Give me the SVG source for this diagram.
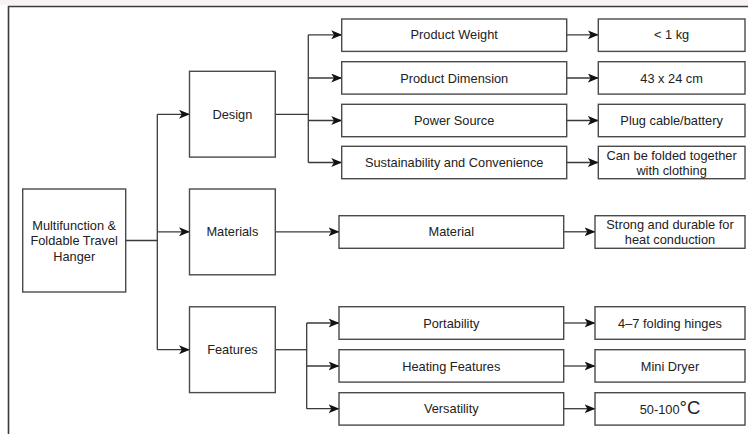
<svg xmlns="http://www.w3.org/2000/svg" width="748" height="434" viewBox="0 0 748 434">
  <style>
    .box { fill: #ffffff; stroke: #4a4a4a; stroke-width: 1.4; }
    .lbl { font-family: "Liberation Sans", Arial, sans-serif; font-size: 12.8px; fill: #222222; text-anchor: middle; }
    .wire { fill: none; stroke: #3a3a3a; stroke-width: 1.3; }
    .frame { fill: none; stroke: #3a3a3a; stroke-width: 1.6; }
  </style>
  <defs>
    <marker id="arrow" viewBox="0 0 11 9" refX="10.5" refY="4.5" markerWidth="11" markerHeight="9" markerUnits="userSpaceOnUse" orient="auto">
      <path d="M0,0 L11,4.5 L0,9 L2.8,4.5 Z" fill="#111111"/>
    </marker>
  </defs>

  <rect x="0" y="0" width="748" height="434" fill="#ffffff"/>
  <rect x="0" y="0" width="748" height="5" fill="#f7f3f4"/>
  <!-- outer frame (open to the right and bottom) -->
  <path class="frame" d="M8.5,434 V6.5 H748"/>

  <!-- connectors -->
  <g id="connectors">
    <!-- root to categories -->
    <path class="wire" d="M125.7,240.5 H157.3"/>
    <path class="wire" d="M157.3,114.3 V349.7"/>
    <path class="wire" marker-end="url(#arrow)" d="M157.3,114.3 H189.5"/>
    <path class="wire" marker-end="url(#arrow)" d="M157.3,231.8 H189.5"/>
    <path class="wire" marker-end="url(#arrow)" d="M157.3,349.7 H189.5"/>

    <!-- Design branch -->
    <path class="wire" d="M275.3,114.3 H308.3"/>
    <path class="wire" d="M308.3,34.8 V162.5"/>
    <path class="wire" marker-end="url(#arrow)" d="M308.3,34.8 H341.7"/>
    <path class="wire" marker-end="url(#arrow)" d="M308.3,78 H341.7"/>
    <path class="wire" marker-end="url(#arrow)" d="M308.3,120.5 H341.7"/>
    <path class="wire" marker-end="url(#arrow)" d="M308.3,162.5 H341.7"/>
    <path class="wire" marker-end="url(#arrow)" d="M566.7,34.8 H598.3"/>
    <path class="wire" marker-end="url(#arrow)" d="M566.7,78 H598.3"/>
    <path class="wire" marker-end="url(#arrow)" d="M566.7,120.5 H598.3"/>
    <path class="wire" marker-end="url(#arrow)" d="M566.7,162.5 H598.3"/>

    <!-- Materials branch -->
    <path class="wire" marker-end="url(#arrow)" d="M275.3,231.8 H339"/>
    <path class="wire" marker-end="url(#arrow)" d="M563.7,231.8 H595"/>

    <!-- Features branch -->
    <path class="wire" d="M275.3,349.7 H306.7"/>
    <path class="wire" d="M306.7,323 V408.7"/>
    <path class="wire" marker-end="url(#arrow)" d="M306.7,323 H339"/>
    <path class="wire" marker-end="url(#arrow)" d="M306.7,366 H339"/>
    <path class="wire" marker-end="url(#arrow)" d="M306.7,408.7 H339"/>
    <path class="wire" marker-end="url(#arrow)" d="M563.7,323 H595"/>
    <path class="wire" marker-end="url(#arrow)" d="M563.7,366 H595"/>
    <path class="wire" marker-end="url(#arrow)" d="M563.7,408.7 H595"/>
  </g>

  <!-- root -->
  <g id="hanger">
    <rect class="box" x="22.7" y="189" width="103" height="103"/>
    <text class="lbl" x="74.2" y="229.5">Multifunction &amp;</text>
    <text class="lbl" x="74.2" y="245">Foldable Travel</text>
    <text class="lbl" x="74.2" y="260.5">Hanger</text>
  </g>

  <!-- categories -->
  <g id="design">
    <rect class="box" x="189.5" y="71.3" width="85.8" height="85.8"/>
    <text class="lbl" x="232.4" y="118.8">Design</text>
  </g>
  <g id="materials">
    <rect class="box" x="189.5" y="189" width="85.8" height="85.8"/>
    <text class="lbl" x="232.4" y="236.3">Materials</text>
  </g>
  <g id="features">
    <rect class="box" x="189.5" y="306.8" width="85.8" height="85.8"/>
    <text class="lbl" x="232.4" y="354.2">Features</text>
  </g>

  <!-- Design attributes -->
  <g id="product-weight">
    <rect class="box" x="341.7" y="19" width="225" height="32.4"/>
    <text class="lbl" x="454.2" y="39.3">Product Weight</text>
  </g>
  <g id="product-dimension">
    <rect class="box" x="341.7" y="61.7" width="225" height="32.4"/>
    <text class="lbl" x="454.2" y="82.5">Product Dimension</text>
  </g>
  <g id="power-source">
    <rect class="box" x="341.7" y="104.3" width="225" height="32.4"/>
    <text class="lbl" x="454.2" y="125">Power Source</text>
  </g>
  <g id="sustainability">
    <rect class="box" x="341.7" y="146.3" width="225" height="32.4"/>
    <text class="lbl" x="454.2" y="167">Sustainability and Convenience</text>
  </g>

  <!-- Design values -->
  <g id="weight-value">
    <rect class="box" x="598.3" y="19" width="146.7" height="32.4"/>
    <text class="lbl" x="671.6" y="39.3">&lt; 1 kg</text>
  </g>
  <g id="dimension-value">
    <rect class="box" x="598.3" y="61.7" width="146.7" height="32.4"/>
    <text class="lbl" x="671.6" y="82.5">43 x 24 cm</text>
  </g>
  <g id="power-value">
    <rect class="box" x="598.3" y="104.3" width="146.7" height="32.4"/>
    <text class="lbl" x="671.6" y="125">Plug cable/battery</text>
  </g>
  <g id="sustainability-value">
    <rect class="box" x="598.3" y="146.3" width="146.7" height="32.4"/>
    <text class="lbl" x="671.6" y="159.5">Can be folded together</text>
    <text class="lbl" x="671.6" y="174.5">with clothing</text>
  </g>

  <!-- Materials attribute -->
  <g id="material">
    <rect class="box" x="339" y="215.7" width="224.7" height="32.6"/>
    <text class="lbl" x="451.3" y="236.3">Material</text>
  </g>
  <g id="material-value">
    <rect class="box" x="595" y="215.7" width="150" height="32.6"/>
    <text class="lbl" x="670" y="228.5">Strong and durable for</text>
    <text class="lbl" x="670" y="243.5">heat conduction</text>
  </g>

  <!-- Features attributes -->
  <g id="portability">
    <rect class="box" x="339" y="306.7" width="224.7" height="32.6"/>
    <text class="lbl" x="451.3" y="327.5">Portability</text>
  </g>
  <g id="heating-features">
    <rect class="box" x="339" y="349.7" width="224.7" height="32.4"/>
    <text class="lbl" x="451.3" y="370.5">Heating Features</text>
  </g>
  <g id="versatility">
    <rect class="box" x="339" y="392.7" width="224.7" height="32.4"/>
    <text class="lbl" x="451.3" y="413">Versatility</text>
  </g>

  <!-- Features values -->
  <g id="portability-value">
    <rect class="box" x="595" y="306.7" width="150" height="32.6"/>
    <text class="lbl" x="670" y="327.5">4–7 folding hinges</text>
  </g>
  <g id="heating-value">
    <rect class="box" x="595" y="349.7" width="150" height="32.4"/>
    <text class="lbl" x="670" y="370.5">Mini Dryer</text>
  </g>
  <g id="versatility-value">
    <rect class="box" x="595" y="392.7" width="150" height="32.4"/>
    <text class="lbl" x="670" y="414">50-100<tspan font-size="18.5px">°C</tspan></text>
  </g>
</svg>
